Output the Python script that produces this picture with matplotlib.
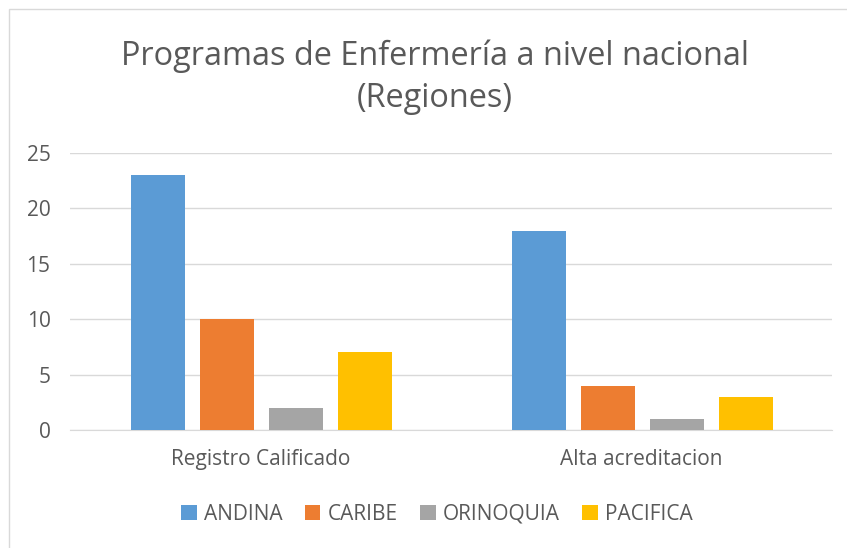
import matplotlib
matplotlib.use("Agg")
import matplotlib.pyplot as plt
import numpy as np
from matplotlib.patches import Rectangle

categories = ["Registro Calificado", "Alta acreditacion"]
series_names = ["ANDINA", "CARIBE", "ORINOQUIA", "PACIFICA"]
andina = [23, 18]
caribe = [10, 4]
orinoquia = [2, 1]
pacifica = [7, 3]
values = [andina, caribe, orinoquia, pacifica]
colors = ["#5B9BD5", "#ED7D31", "#A5A5A5", "#FFC000"]

plt.rcParams['font.family'] = ['Open Sans', 'DejaVu Sans']
W, H = 847, 548
fig = plt.figure(figsize=(W/100, H/100), dpi=100)
ax = fig.add_axes([70/W, 1-430/H, 762/W, 277/H])

x = np.arange(len(categories))
bw = 0.142
step = 0.181
for i, (name, vals, c) in enumerate(zip(series_names, values, colors)):
    ax.bar(x + (i-1.5)*step + 0.003, vals, width=bw, color=c, label=name, zorder=3)

ax.set_xlim(-0.5, 1.5)
ax.set_ylim(0, 25)
ax.set_yticks([0, 5, 10, 15, 20, 25])
ax.yaxis.grid(True, color="#D9D9D9", linewidth=1, zorder=0)
ax.set_xticks(x)
ax.set_xticklabels(categories)
for s in ["top", "right", "left"]:
    ax.spines[s].set_visible(False)
ax.spines["bottom"].set_color("#D9D9D9")
ax.tick_params(axis="both", length=0, colors="#595959", labelsize=15)
ax.tick_params(axis="y", pad=14)
ax.tick_params(axis="x", pad=14)

fig.text(435/W, 1-77/H, "Programas de Enfermería a nivel nacional\n(Regiones)",
         ha="center", va="center", fontsize=23.4, color="#595959", linespacing=1.37)

leg = fig.legend(loc="center", bbox_to_anchor=(437/W, 1-514/H), ncol=4, frameon=False,
                 fontsize=15, handlelength=0.75, handleheight=0.75, columnspacing=1.07,
                 handletextpad=0.35)
for t in leg.get_texts():
    t.set_color("#595959")

fig.patches.append(Rectangle((9/W, -0.1), 1.2, 1-9/H+0.1, transform=fig.transFigure,
                             fill=False, edgecolor="#D9D9D9", linewidth=1))

fig.savefig("out.png", dpi=100)
